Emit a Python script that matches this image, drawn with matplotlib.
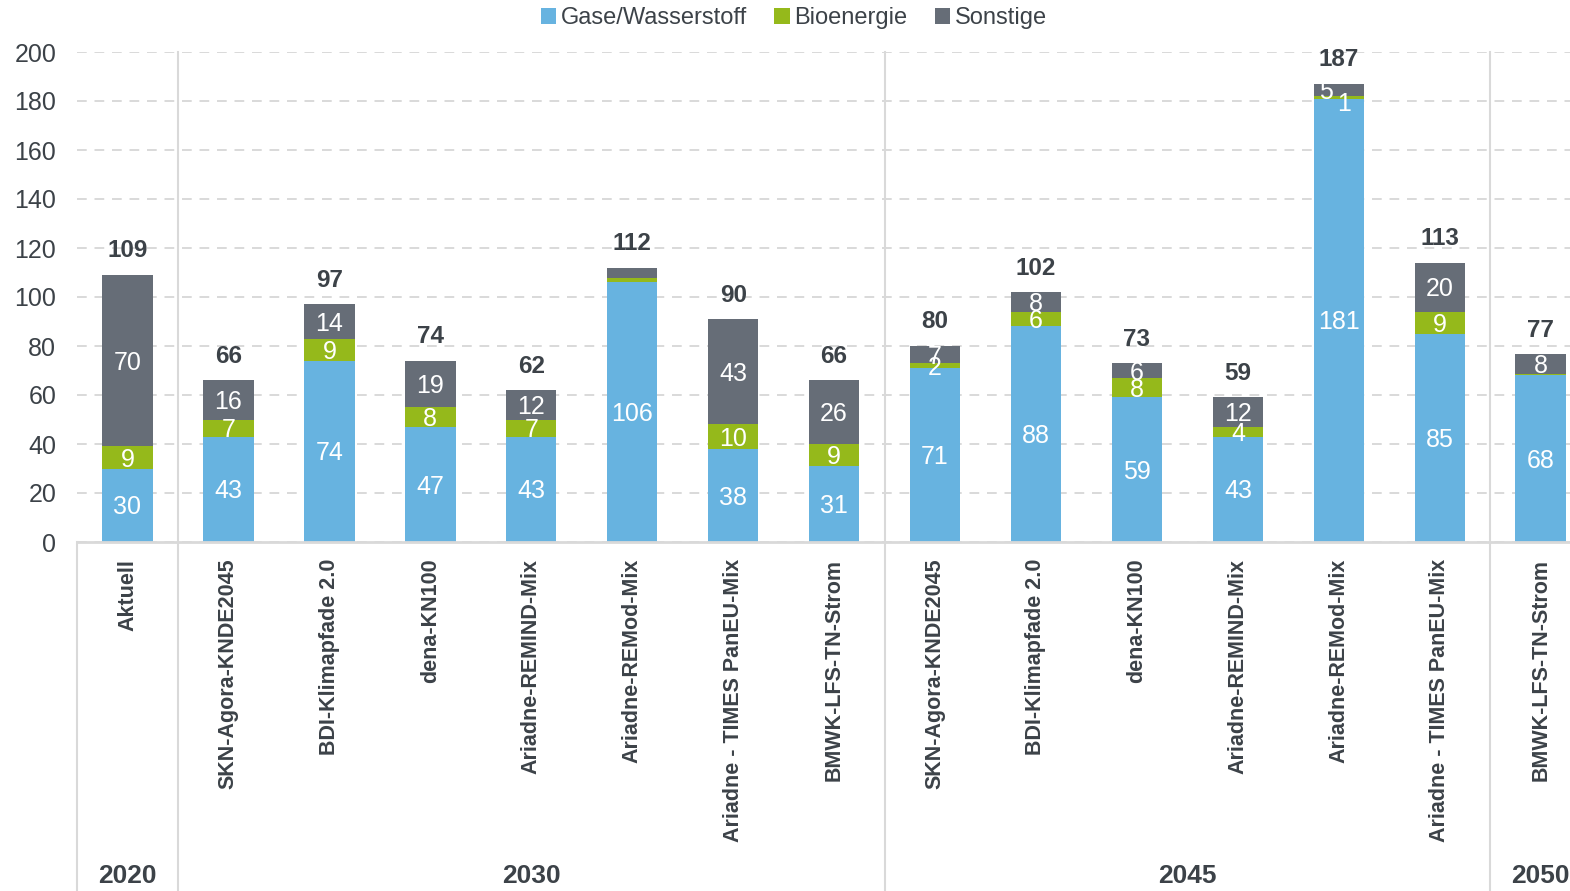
import matplotlib
matplotlib.use("Agg")
import matplotlib.pyplot as plt
from matplotlib.patches import Patch
import matplotlib.transforms as mtrans

plt.rcParams['font.family'] = ['Liberation Sans', 'DejaVu Sans']

# ---------------- data ----------------
categories = ["Aktuell",
              "SKN-Agora-KNDE2045", "BDI-Klimapfade 2.0", "dena-KN100",
              "Ariadne-REMIND-Mix", "Ariadne-REMod-Mix", "Ariadne - TIMES PanEU-Mix",
              "BMWK-LFS-TN-Strom",
              "SKN-Agora-KNDE2045", "BDI-Klimapfade 2.0", "dena-KN100",
              "Ariadne-REMIND-Mix", "Ariadne-REMod-Mix", "Ariadne - TIMES PanEU-Mix",
              "BMWK-LFS-TN-Strom"]
gase = [30, 43, 74, 47, 43, 106, 38, 31, 71, 88, 59, 43, 181, 85, 68]
bio = [9, 7, 9, 8, 7, 1.6, 10, 9, 2, 6, 8, 4, 1, 9, 0.7]
sonstige = [70, 16, 14, 19, 12, 4.4, 43, 26, 7, 8, 6, 12, 5, 20, 8]
totals = [109, 66, 97, 74, 62, 112, 90, 66, 80, 102, 73, 59, 187, 113, 77]
series_names = ["Gase/Wasserstoff", "Bioenergie", "Sonstige"]
groups = ["2020", "2030", "2045", "2050"]
group_ranges = [(0, 0), (1, 7), (8, 13), (14, 14)]  # inclusive category index ranges
hidden_labels = {(5, 1), (5, 2), (14, 1)}  # (bar, series) labels not shown
label_dx = {(12, 2): -9, (12, 1): 4}        # small nudges (points)
label_dy = {(12, 1): -3}

# ---------------- style ----------------
c_blue = "#67B3E0"
c_green = "#95B91B"
c_gray = "#666D77"
c_text = "#3C4248"
c_line = "#D9D9D9"

W, H = 1570, 891
fig = plt.figure(figsize=(W / 100, H / 100), dpi=100)
ax_left = 77 / W
ax_bottom = 1 - 542 / H
ax_top = 1 - 52 / H
ax = fig.add_axes([ax_left, ax_bottom, 1 - ax_left, ax_top - ax_bottom])

x = list(range(len(categories)))
bw = 0.5
series = [gase, bio, sonstige]
colors = [c_blue, c_green, c_gray]
bottoms = [0.0] * len(x)
for si, (vals, col) in enumerate(zip(series, colors)):
    ax.bar(x, vals, bw, bottom=bottoms, color=col, zorder=3, linewidth=0)
    for i in x:
        if (i, si) in hidden_labels:
            continue
        yc = bottoms[i] + vals[i] / 2
        ax.annotate(f"{vals[i]:.0f}", (i, yc),
                    xytext=(label_dx.get((i, si), 0), label_dy.get((i, si), 0) - 1.5),
                    textcoords="offset points", ha="center", va="center",
                    color="white", fontsize=18, zorder=5)
    bottoms = [b + v for b, v in zip(bottoms, vals)]

for i in x:
    ax.annotate(f"{totals[i]}", (i, bottoms[i]), xytext=(0, 9),
                textcoords="offset points", ha="center", va="bottom",
                color=c_text, fontsize=17.5, fontweight="bold", zorder=5,
                annotation_clip=False)

ax.set_ylim(0, 200)
ax.set_xlim(-0.5, 14.29)
ax.set_yticks(range(0, 201, 20))
ax.tick_params(axis="y", length=0, pad=15, labelsize=18, labelcolor=c_text)
ax.set_xticks([])
for s in ["top", "right", "left"]:
    ax.spines[s].set_visible(False)
ax.spines["bottom"].set_color(c_line)
ax.spines["bottom"].set_linewidth(2)
ax.spines["bottom"].set_zorder(4)
ax.yaxis.grid(True, color=c_line, linestyle=(0, (5, 4)), linewidth=1.4, zorder=0)
ax.set_axisbelow(True)

# category labels
for i, cat in enumerate(categories):
    ax.annotate(cat, (i, 0), xytext=(0, -12), textcoords="offset points",
                ha="center", va="top", rotation=90, color=c_text,
                fontsize=15.5, fontweight="bold", annotation_clip=False)

# group separators and labels
trans = mtrans.blended_transform_factory(ax.transData, ax.transAxes)
ybot = -(H - 542) / (542 - 52)
seps = [-0.5] + [r[1] + 0.5 for r in group_ranges[:-1]]
for k, sx in enumerate(seps):
    ytop = 0 if k == 0 else 1
    ax.plot([sx, sx], [ybot, ytop], transform=trans, color=c_line,
            linewidth=1.5, clip_on=False, zorder=1)
ylab = -(876 - 542) / (542 - 52)
for g, (a, b) in zip(groups, group_ranges):
    xc = (a + b) / 2
    ax.text(xc, ylab, g, transform=trans, ha="center", va="center",
            color=c_text, fontsize=19, fontweight="bold", clip_on=False)

handles = [Patch(facecolor=c, edgecolor="none") for c in colors]
fig.legend(handles, series_names, loc="center", bbox_to_anchor=(794 / W, 1 - 18 / H),
           ncol=3, frameon=False, fontsize=17, handlelength=0.65, handleheight=0.65,
           handletextpad=0.2, columnspacing=1.15, labelcolor=c_text)

fig.savefig("out.png", dpi=100)
